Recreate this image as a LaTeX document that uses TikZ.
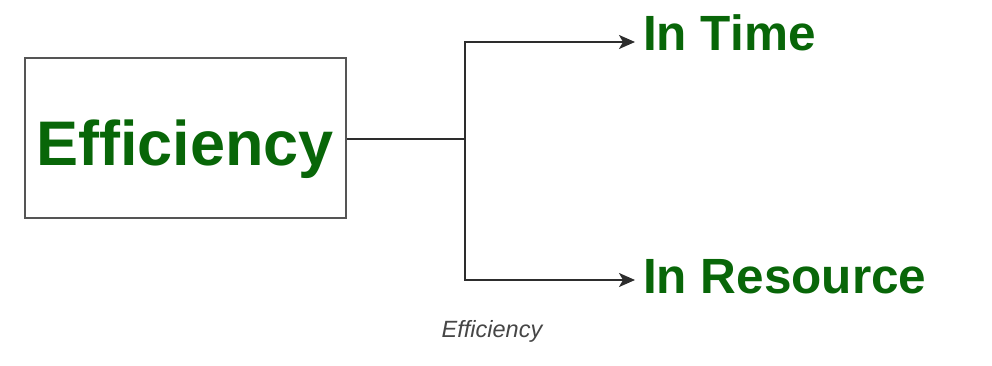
\documentclass[tikz,border=0pt]{standalone}
\usepackage{fontspec}
\setmainfont{Liberation Sans}
\usetikzlibrary{arrows.meta}
\definecolor{leafgreen}{RGB}{8,102,8}
\definecolor{linegray}{RGB}{45,45,45}
\definecolor{boxgray}{RGB}{85,85,85}
\definecolor{capgray}{RGB}{70,70,70}
\tikzset{
  box/.style={draw=boxgray, line width=1.8pt, minimum width=321pt, minimum height=160pt, inner sep=0pt},
  bigtitle/.style={text=leafgreen, font=\fontsize{63}{70}\selectfont\bfseries, inner sep=0pt, anchor=base},
  leaftext/.style={text=leafgreen, font=\fontsize{49.5}{56}\selectfont\bfseries, inner sep=0pt, anchor=base west},
  caption/.style={text=capgray, font=\fontsize{23.5}{28}\selectfont\itshape, inner sep=0pt, anchor=base},
  link/.style={draw=linegray, line width=1.8pt},
  arrowlink/.style={link, -{Stealth[length=16pt,width=14pt,inset=4pt]}},
}
\begin{document}
\begin{tikzpicture}[x=1pt,y=-1pt]
  \useasboundingbox (0,0) rectangle (992,366);
  % main box and its title
  \node[box] (eff) at (185.5,138) {};
  \node[bigtitle] (efftext) at (185,165) {Efficiency};
  % branch points
  \coordinate (j) at (465,139);
  \coordinate (ta) at (635,42);
  \coordinate (ra) at (635,280);
  % leaves
  \node[leaftext] (time) at (643,51) {In Time};
  \node[leaftext] (res) at (643,293) {In Resource};
  % connectors
  \draw[link] (eff.east |- j) -- (j);
  \draw[arrowlink] (j) |- (ta);
  \draw[arrowlink] (j) |- (ra);
  % caption
  \node[caption] (cap) at (492,337) {Efficiency};
\end{tikzpicture}
\end{document}
